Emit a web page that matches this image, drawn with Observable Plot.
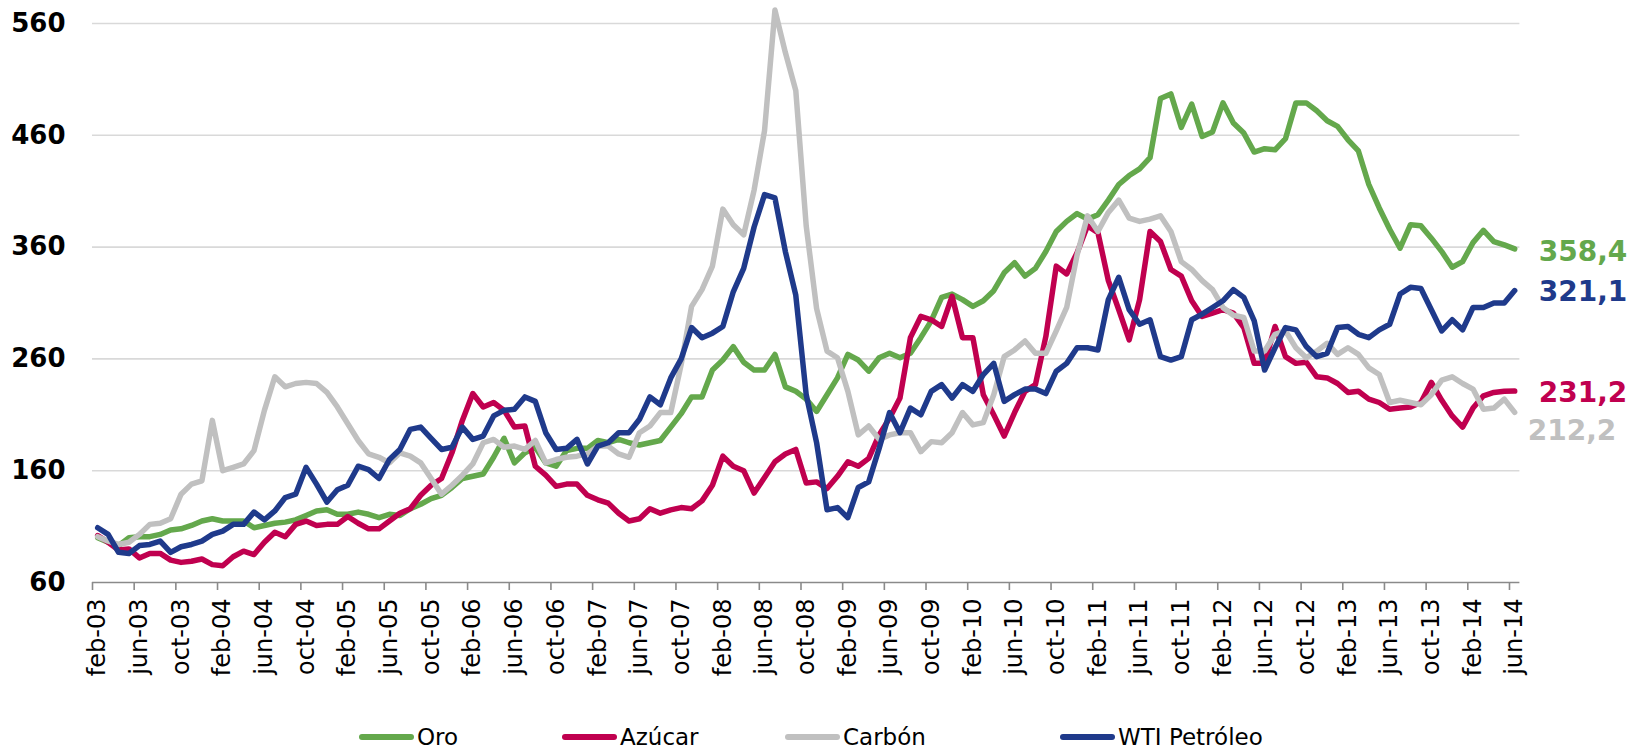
<!DOCTYPE html>
<html>
<head>
<meta charset="utf-8">
<script src="https://cdn.jsdelivr.net/npm/d3@7"></script>
<script src="https://cdn.jsdelivr.net/npm/@observablehq/plot@0.6"></script>
<style>
  html, body { margin: 0; padding: 0; background: #ffffff; }
  #chart svg { display: block; overflow: visible; }
  #legend { position: relative; width: 1645px; height: 34px; font-family: "DejaVu Sans", sans-serif; font-size: 23px; color: #000; }
  .item { position: absolute; top: 0; height: 34px; display: flex; align-items: center; }
  .sw { width: 55px; height: 6px; border-radius: 3px; margin-right: 3px; }
</style>
</head>
<body>
<div id="chart"></div>
<div id="legend"></div>
<script>
// Monthly categories feb-03 .. jun-14
const mesAbr = ["ene","feb","mar","abr","may","jun","jul","ago","sep","oct","nov","dic"];
const months = [];
for (let k = 1; k <= 137; k++) {
  const m = k % 12, y = 3 + Math.floor(k / 12);
  months.push(mesAbr[m] + "-" + String(y).padStart(2, "0"));
}

const tickLabels = ["feb-03","jun-03","oct-03","feb-04","jun-04","oct-04","feb-05","jun-05","oct-05",
  "feb-06","jun-06","oct-06","feb-07","jun-07","oct-07","feb-08","jun-08","oct-08","feb-09","jun-09",
  "oct-09","feb-10","jun-10","oct-10","feb-11","jun-11","oct-11","feb-12","jun-12","oct-12","feb-13",
  "jun-13","oct-13","feb-14","jun-14"];
const yTicks = [60, 160, 260, 360, 460, 560];

const seriesNames = ["Oro", "Azúcar", "Carbón", "WTI Petróleo"];
const seriesColors = ["#64a84c", "#c0004f", "#c0c0c0", "#1f3a8b"];

const oro = [
100, 96, 93, 100, 101, 101, 103, 107, 108, 111, 115, 117, 115, 115, 115, 109, 111, 113, 114, 116, 120, 124, 125,
121, 121, 123, 121, 118, 121, 120, 126, 130, 135, 138, 145, 153, 155, 157, 172, 189, 167, 176, 181, 167, 164, 178,
180, 180, 187, 185, 188, 185, 183, 185, 187, 199, 211, 226, 226, 250, 259, 271, 257, 250, 250, 264, 235, 231, 224,
213, 228, 243, 264, 259, 249, 261, 265, 261, 265, 279, 294, 315, 318, 313, 307, 312, 321, 337, 346, 334, 341, 356,
374, 383, 390, 385, 389, 402, 416, 424, 430, 440, 493, 497, 467, 488, 459, 463, 489, 471, 462, 445, 448, 447, 457,
489, 489, 482, 473, 468, 456, 446, 416, 395, 376, 359, 380, 379, 368, 356, 342, 347, 364, 375, 365, 362, 358.4];

const azucar = [
102, 96, 89, 90, 82, 86, 86, 80, 78, 79, 81, 76, 75, 83, 88, 85, 96, 105, 101, 112, 115, 111, 112,
112, 119, 113, 108, 108, 115, 122, 126, 138, 147, 153, 176, 205, 229, 217, 221, 214, 199, 200, 164, 156, 146, 148,
148, 138, 134, 131, 122, 115, 117, 126, 122, 125, 127, 126, 133, 147, 173, 164, 160, 140, 154, 168, 175, 179, 149,
150, 144, 155, 168, 164, 171, 192, 207, 225, 279, 298, 295, 289, 316, 279, 279, 228, 210, 191, 212, 231, 237, 280,
343, 336, 355, 379, 373, 330, 304, 277, 313, 374, 365, 340, 334, 312, 298, 301, 304, 301, 288, 256, 256, 289, 262,
256, 257, 244, 243, 238, 230, 231, 224, 221, 215, 216, 217, 221, 239, 223, 209, 199, 216, 227, 230, 231, 231.2];

const carbon = [
101, 97, 94, 96, 103, 112, 113, 117, 139, 148, 151, 205, 160, 163, 166, 178, 214, 244, 235, 238, 239, 238, 230,
217, 202, 187, 175, 172, 167, 176, 173, 167, 153, 139, 147, 156, 166, 185, 188, 181, 182, 179, 187, 167, 170, 172,
173, 175, 182, 182, 175, 172, 194, 200, 212, 212, 255, 307, 322, 343, 394, 380, 371, 411, 464, 572, 534, 500, 379,
305, 267, 261, 231, 192, 200, 188, 192, 194, 194, 177, 186, 185, 194, 212, 201, 203, 228, 262, 268, 276, 265, 265,
285, 306, 353, 388, 374, 391, 402, 386, 383, 385, 388, 374, 347, 340, 330, 322, 306, 299, 297, 267, 267, 282, 285,
270, 261, 267, 274, 264, 270, 264, 252, 246, 221, 223, 221, 219, 228, 241, 244, 238, 233, 215, 216, 224, 212.2];

const wti = [
109, 103, 87, 86, 93, 94, 97, 87, 92, 94, 97, 103, 106, 112, 112, 123, 116, 124, 136, 139, 163, 148, 132,
143, 147, 164, 161, 153, 170, 179, 197, 199, 189, 179, 181, 199, 188, 191, 209, 214, 215, 226, 222, 194, 179, 180,
188, 166, 182, 185, 194, 194, 206, 226, 219, 243, 260, 288, 279, 283, 289, 320, 341, 378, 407, 404, 356, 317, 228,
185, 125, 127, 118, 145, 150, 180, 212, 194, 216, 210, 231, 237, 225, 237, 231, 246, 256, 222, 228, 233, 233, 229,
249, 256, 270, 270, 268, 313, 333, 304, 291, 295, 262, 259, 262, 295, 300, 306, 312, 322, 315, 294, 250, 270, 288,
286, 271, 262, 265, 288, 289, 282, 279, 286, 291, 318, 324, 323, 304, 285, 295, 286, 306, 306, 310, 310, 321.1];

const allSeries = [oro, azucar, carbon, wti];
const n = months.length;
const labelIdx = tickLabels.map(t => months.indexOf(t));
const boundaries = d3.range(-0.5, n, 4);
const fmt = v => v.toFixed(1).replace(".", ",");

// end-label offsets (style only)
const endDx = [24, 24, 13, 24];
const endDy = [3, 2, 19, 1];

const lineMarks = allSeries.map((s, k) => Plot.lineY(s, {
  stroke: seriesColors[k], strokeWidth: 5.5, strokeLinejoin: "round", strokeLinecap: "round"
}));
const endMarks = allSeries.map((s, k) => Plot.text([s[n - 1]], {
  x: n - 1, y: d => d, text: d => fmt(d), dx: endDx[k], dy: endDy[k],
  textAnchor: "start", fill: seriesColors[k], fontSize: 28, fontWeight: "bold"
}));

const chart = Plot.plot({
  width: 1645,
  height: 720,
  marginLeft: 92,
  marginRight: 125.6,
  marginTop: 23,
  marginBottom: 138,
  x: {domain: [-0.5, n - 0.5]},
  y: {domain: [60, 560]},
  style: {fontFamily: "'DejaVu Sans', sans-serif", background: "#ffffff", color: "#000"},
  marks: [
    Plot.gridY(yTicks.slice(1), {stroke: "#d9d9d9", strokeOpacity: 1, strokeWidth: 1.6}),
    Plot.ruleY([60], {stroke: "#8a8a8a", strokeWidth: 1.6}),
    Plot.axisX(boundaries, {tickSize: 8, tickFormat: () => "", stroke: "#8a8a8a", strokeWidth: 1.6, label: null}),
    Plot.axisX(labelIdx, {tickSize: 0, tickPadding: 16, tickRotate: -90, tickFormat: i => months[i],
      fontSize: 24, fill: "#000", label: null}),
    Plot.axisY(yTicks, {tickSize: 0, tickPadding: 27, fontSize: 26, fontWeight: "bold", fill: "#000", label: null}),
    ...lineMarks,
    ...endMarks
  ]
});
document.getElementById("chart").appendChild(chart);

// Legend (HTML, below the SVG)
const legendLeft = [359, 562, 785, 1060];
const legend = document.getElementById("legend");
seriesNames.forEach((name, k) => {
  const it = document.createElement("div");
  it.className = "item";
  it.style.left = legendLeft[k] + "px";
  const sw = document.createElement("div");
  sw.className = "sw";
  sw.style.background = seriesColors[k];
  const tx = document.createElement("span");
  tx.textContent = name;
  it.appendChild(sw); it.appendChild(tx);
  legend.appendChild(it);
});
</script>
</body>
</html>
